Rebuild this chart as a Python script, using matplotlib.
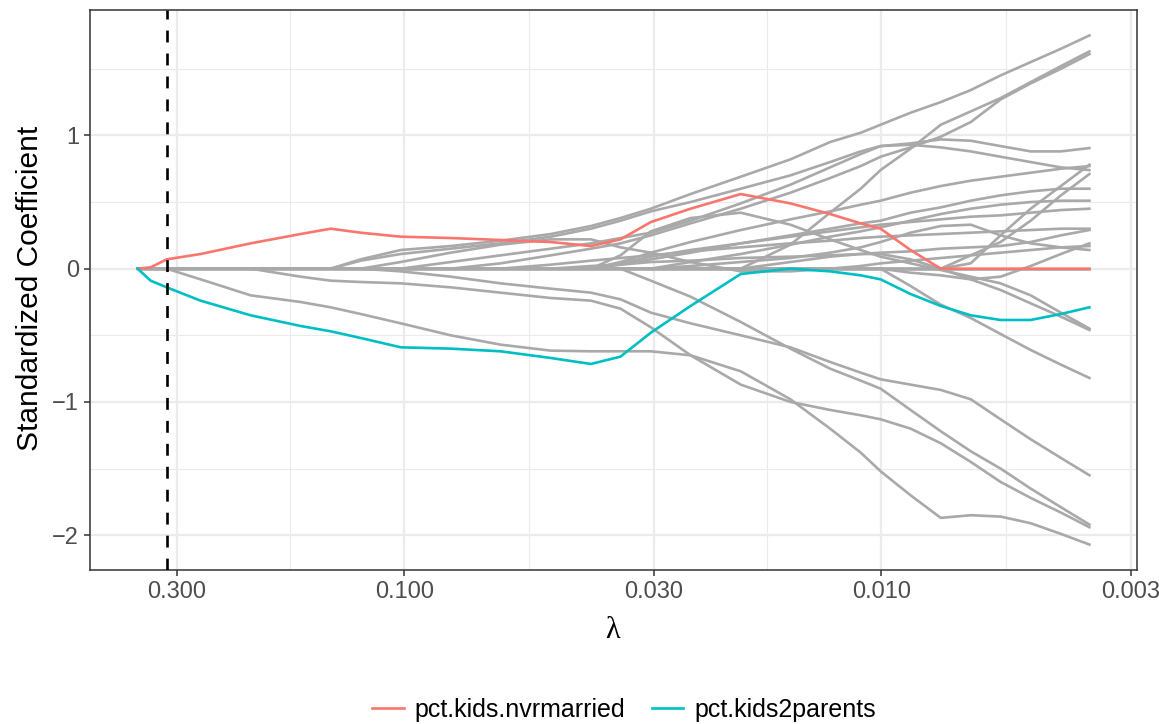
import numpy as np
import matplotlib
matplotlib.use("Agg")
import matplotlib.pyplot as plt

# Penalty values along the lasso path
lambdas = [0.3622, 0.3401, 0.3148, 0.2672, 0.2099, 0.1649, 0.1426, 0.1234,
           0.1017, 0.0799, 0.0628, 0.0493, 0.0406, 0.0352, 0.0304, 0.0251,
           0.0197, 0.0155, 0.0128, 0.01104, 0.01003, 0.00868, 0.00750,
           0.00649, 0.00562, 0.00486, 0.00420, 0.00366]

lambda_min = 0.315

# Highlighted predictors
kids_nvrmarried = [0, 0.01, 0.07, 0.11, 0.19, 0.26, 0.30, 0.27, 0.24, 0.23,
                   0.215, 0.20, 0.17, 0.22, 0.35, 0.45, 0.56, 0.49, 0.41,
                   0.34, 0.30, 0.14, 0, 0, 0, 0, 0, 0]
kids2parents = [0, -0.09, -0.14, -0.24, -0.35, -0.43, -0.47, -0.52, -0.59,
                -0.60, -0.62, -0.67, -0.715, -0.66, -0.48, -0.28, -0.04, 0.0,
                -0.02, -0.05, -0.08, -0.19, -0.28, -0.35, -0.385, -0.385,
                -0.34, -0.29]

# Remaining predictors
other_00 = [0] * 28
other_01 = [0, 0, 0, -0.08, -0.20, -0.25, -0.29, -0.34, -0.41, -0.50, -0.57,
            -0.615, -0.62, -0.62, -0.62, -0.65, -0.77, -0.98, -1.20, -1.38,
            -1.52, -1.70, -1.87, -1.85, -1.86, -1.91, -1.99, -2.07]
other_02 = [0, 0, 0, 0, 0, -0.06, -0.09, -0.10, -0.11, -0.14, -0.18, -0.22,
            -0.24, -0.30, -0.44, -0.65, -0.87, -1.00, -1.06, -1.10, -1.13,
            -1.20, -1.31, -1.45, -1.60, -1.72, -1.83, -1.94]
other_03 = [0, 0, 0, 0, 0, 0, 0, 0, -0.02, -0.06, -0.11, -0.15, -0.18, -0.23,
            -0.33, -0.41, -0.50, -0.59, -0.70, -0.78, -0.83, -0.87, -0.91,
            -0.98, -1.13, -1.28, -1.42, -1.55]
other_04 = [0, 0, 0, 0, 0, 0, 0, 0, 0, 0, 0, 0, 0, 0, -0.09, -0.21, -0.40,
            -0.60, -0.75, -0.84, -0.90, -1.06, -1.22, -1.37, -1.50, -1.65,
            -1.79, -1.92]
other_05 = [0, 0, 0, 0, 0, 0, 0, 0, 0, 0, 0, 0, 0, 0, 0, 0, 0, 0, 0, 0, 0,
            -0.13, -0.27, -0.37, -0.49, -0.61, -0.72, -0.82]
other_06 = [0, 0, 0, 0, 0, 0, 0, 0, 0, 0, 0, 0, 0, 0.10, 0.28, 0.38, 0.42,
            0.33, 0.22, 0.14, 0.09, 0.04, -0.01, -0.06, -0.11, -0.20, -0.33,
            -0.45]
other_07 = [0, 0, 0, 0, 0, 0, 0, 0, 0, 0, 0, 0, 0, 0, 0, 0, 0, 0.05, 0.09,
            0.11, 0.11, 0.07, 0.0, -0.08, -0.16, -0.26, -0.36, -0.46]
other_08 = [0, 0, 0, 0, 0, 0, 0, 0.07, 0.14, 0.17, 0.21, 0.26, 0.32, 0.38,
            0.45, 0.56, 0.69, 0.82, 0.95, 1.02, 1.08, 1.17, 1.25, 1.34, 1.45,
            1.55, 1.65, 1.75]
other_09 = [0, 0, 0, 0, 0, 0, 0, 0.06, 0.11, 0.15, 0.19, 0.24, 0.30, 0.36,
            0.43, 0.50, 0.60, 0.70, 0.80, 0.88, 0.92, 0.94, 0.97, 0.96, 0.92,
            0.88, 0.88, 0.905]
other_10 = [0, 0, 0, 0, 0, 0, 0, 0, 0, 0, 0, 0, 0, 0, 0, 0, 0, 0.18, 0.42,
            0.60, 0.74, 0.90, 1.08, 1.18, 1.28, 1.40, 1.52, 1.63]
other_11 = [0, 0, 0, 0, 0, 0, 0, 0, 0, 0, 0.04, 0.10, 0.15, 0.19, 0.25,
            0.34, 0.45, 0.57, 0.68, 0.77, 0.84, 0.91, 0.99, 1.10, 1.27, 1.39,
            1.50, 1.61]
other_12 = [0, 0, 0, 0, 0, 0, 0, 0, 0, 0.05, 0.10, 0.15, 0.19, 0.23, 0.27,
            0.36, 0.49, 0.63, 0.76, 0.86, 0.92, 0.93, 0.91, 0.88, 0.84, 0.80,
            0.76, 0.74]
other_13 = [0, 0, 0, 0, 0, 0, 0, 0, 0, 0, 0, 0, 0, 0, 0, 0, 0, 0, 0, 0, 0, 0,
            0, 0.04, 0.25, 0.45, 0.62, 0.78]
other_14 = [0, 0, 0, 0, 0, 0, 0, 0, 0, 0, 0, 0, 0, 0, 0, 0, 0, 0, 0, 0, 0, 0,
            0, 0.10, 0.20, 0.36, 0.55, 0.71]
other_15 = [0, 0, 0, 0, 0, 0, 0, 0, 0, 0, 0, 0, 0, 0.05, 0.12, 0.20, 0.29,
            0.37, 0.43, 0.48, 0.51, 0.57, 0.62, 0.66, 0.69, 0.72, 0.75, 0.77]
other_16 = [0, 0, 0, 0, 0, 0, 0, 0, 0, 0, 0, 0, 0, 0.03, 0.07, 0.12, 0.19,
            0.25, 0.30, 0.34, 0.36, 0.42, 0.46, 0.51, 0.55, 0.58, 0.60, 0.60]
other_17 = [0, 0, 0, 0, 0, 0, 0, 0, 0, 0, 0, 0, 0, 0, 0, 0.05, 0.11, 0.18,
            0.24, 0.28, 0.31, 0.36, 0.41, 0.45, 0.48, 0.50, 0.51, 0.51]
other_18 = [0, 0, 0, 0, 0, 0, 0, 0, 0, 0, 0, 0, 0, 0.04, 0.09, 0.14, 0.19,
            0.24, 0.28, 0.31, 0.33, 0.35, 0.37, 0.39, 0.40, 0.42, 0.44, 0.45]
other_19 = [0, 0, 0, 0, 0, 0, 0, 0, 0, 0, 0, 0.03, 0.06, 0.08, 0.10, 0.13,
            0.16, 0.19, 0.21, 0.23, 0.24, 0.25, 0.26, 0.27, 0.28, 0.29, 0.30,
            0.30]
other_20 = [0, 0, 0, 0, 0, 0, 0, 0, 0, 0, 0, 0, 0, 0, 0, 0.02, 0.05, 0.08,
            0.12, 0.16, 0.20, 0.27, 0.32, 0.33, 0.25, 0.19, 0.16, 0.14]
other_21 = [0, 0, 0, 0, 0, 0, 0, 0, 0, 0, 0, 0, 0, 0, 0, 0, 0, 0, 0, 0, 0,
            -0.03, -0.05, -0.08, -0.06, 0.02, 0.11, 0.19]
other_22 = [0, 0, 0, 0, 0, 0, 0, 0, 0, 0, 0, 0, 0.02, 0.03, 0.05, 0.06, 0.08,
            0.09, 0.10, 0.11, 0.12, 0.13, 0.15, 0.16, 0.17, 0.20, 0.25, 0.29]
other_23 = [0, 0, 0, 0, 0, 0, 0, 0, 0.05, 0.12, 0.18, 0.22, 0.22, 0.16, 0.12,
            0.05, -0.02, -0.02, 0.0, 0.02, 0.04, 0.06, 0.08, 0.10, 0.12, 0.14,
            0.16, 0.17]

others = [other_00, other_01, other_02, other_03, other_04, other_05,
          other_06, other_07, other_08, other_09, other_10, other_11,
          other_12, other_13, other_14, other_15, other_16, other_17,
          other_18, other_19, other_20, other_21, other_22, other_23]

x_breaks = [0.300, 0.100, 0.030, 0.010, 0.003]
x_labels = ["0.300", "0.100", "0.030", "0.010", "0.003"]
y_breaks = [-2, -1, 0, 1]

RED = "#F8766D"
TEAL = "#00BFC4"
GRAY = "#A9A9A9"
GRID = "#EBEBEB"
DARK = "#333333"

plt.rcParams["font.family"] = ["Liberation Sans", "DejaVu Sans"]

W, H = 1159, 724
fig = plt.figure(figsize=(W / 100, H / 100), dpi=100)
ax = fig.add_axes([90 / W, 1 - 570 / H, (1137 - 90) / W, (570 - 10) / H])

lam = np.array(lambdas)
for series in others:
    ax.plot(lam, series, color=GRAY, lw=1.9, solid_joinstyle="round",
            zorder=3)
h1, = ax.plot(lam, kids_nvrmarried, color=RED, lw=1.9, zorder=4,
              label="pct.kids.nvrmarried")
h2, = ax.plot(lam, kids2parents, color=TEAL, lw=1.9, zorder=4,
              label="pct.kids2parents")
ax.axvline(lambda_min, color="black", lw=1.9, ls=(0, (4.5, 4.2)), zorder=5)

ax.set_xscale("log")
lo, hi = np.log10(lam.min()), np.log10(lam.max())
pad = 0.05 * (hi - lo)
ax.set_xlim(10 ** (hi + pad), 10 ** (lo - pad))

allv = np.concatenate([np.ravel(others), kids_nvrmarried, kids2parents])
vpad = 0.05 * (allv.max() - allv.min())
ax.set_ylim(allv.min() - vpad, allv.max() + vpad)

ax.set_xticks(x_breaks)
ax.set_xticklabels(x_labels)
minor_x = [np.sqrt(a * b) for a, b in zip(x_breaks[:-1], x_breaks[1:])]
ax.set_xticks(minor_x, minor=True)
ax.set_yticks(y_breaks)
ax.set_yticklabels([f"{v}".replace("-", "\u2212") for v in y_breaks])
ax.set_yticks([-1.5, -0.5, 0.5, 1.5], minor=True)

ax.grid(which="major", color=GRID, lw=1.6, zorder=0)
ax.grid(which="minor", color=GRID, lw=0.8, zorder=0)
ax.set_axisbelow(True)

ax.tick_params(which="major", length=4, width=1.1, color=DARK,
               labelsize=17, labelcolor="#4D4D4D", pad=4)
ax.tick_params(which="minor", length=0)
for s in ax.spines.values():
    s.set_color(DARK)
    s.set_linewidth(1.1)

fig.text(613 / W, 1 - 630 / H, "\u03bb", ha="center", va="center",
         fontsize=22, family=["Liberation Serif", "DejaVu Serif"])
fig.text(30 / W, 1 - 288 / H, "Standardized Coefficient", rotation=90,
         ha="center", va="center", fontsize=21.5)

fig.legend(handles=[h1, h2], loc="center", bbox_to_anchor=(624 / W, 1 - 710 / H),
           ncol=2, frameon=False, fontsize=18, handlelength=1.25,
           handletextpad=0.45, columnspacing=1.05, borderaxespad=0)

fig.savefig("out.png", dpi=100)
